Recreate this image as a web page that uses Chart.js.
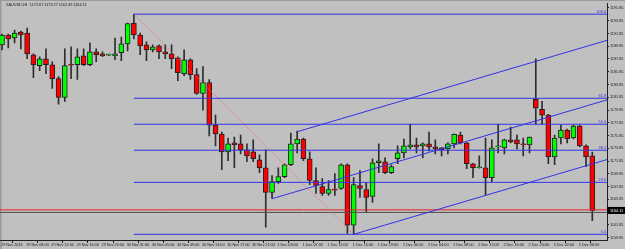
<!DOCTYPE html>
<html><head><meta charset="utf-8">
<script src="https://cdn.jsdelivr.net/npm/chart.js@4.4.0/dist/chart.umd.min.js"></script>
<style>html,body{margin:0;padding:0;background:#c0c0c0;overflow:hidden}canvas{display:block}</style>
</head><body><canvas id="c" width="625" height="249"></canvas>
<script>
const SYMBOL = 'XAUUSD,H1';
const OPEN = [1190.06,1191.61,1191.14,1192.07,1191.92,1188.51,1186.80,1187.89,1186.95,1184.78,
1181.83,1186.95,1186.95,1188.35,1186.95,1188.97,1188.66,1188.45,1188.35,1188.82,
1190.21,1193.47,1191.61,1190.06,1189.28,1189.90,1188.97,1188.66,1188.04,1185.56,
1187.73,1185.40,1182.45,1184.16,1177.48,1176.09,1173.30,1174.69,1174.54,1173.61,
1173.30,1172.05,1170.81,1166.93,1168.64,1169.42,1171.28,1174.54,1175.31,1172.21,
1168.80,1167.87,1166.78,1167.40,1167.55,1171.28,1161.81,1168.02,1167.40,1166.31,
1171.59,1171.74,1170.04,1172.21,1173.14,1174.07,1174.38,1174.23,1174.54,1174.07,
1173.92,1173.76,1174.54,1175.93,1174.69,1171.43,1170.81,1170.81,1169.26,1174.07,
1173.92,1175.16,1175.16,1174.54,1174.38,1181.52,1179.97,1179.04,1172.52,1175.47,
1176.71,1175.47,1177.33,1174.23,1172.67];
const HIGH = [1191.76,1191.76,1192.38,1192.23,1192.70,1188.66,1188.20,1189.44,1187.42,1185.09,
1189.44,1189.75,1189.44,1189.44,1190.37,1189.44,1188.97,1188.60,1191.14,1191.30,
1193.47,1194.87,1191.92,1190.52,1190.06,1190.06,1190.06,1190.06,1188.20,1189.28,
1187.89,1186.33,1186.64,1184.63,1179.04,1176.40,1175.47,1175.62,1175.93,1174.54,
1175.16,1172.83,1173.61,1169.57,1170.81,1171.43,1176.24,1176.55,1175.47,1173.30,
1170.81,1169.11,1168.80,1169.88,1171.43,1171.43,1169.26,1170.35,1168.49,1172.21,
1174.54,1172.36,1171.28,1174.23,1175.31,1177.64,1175.47,1174.69,1176.40,1175.16,
1173.95,1174.69,1176.09,1176.40,1174.75,1171.50,1172.67,1175.47,1175.16,1177.64,
1175.31,1177.17,1175.93,1175.47,1175.62,1187.89,1181.21,1179.19,1175.93,1177.48,
1176.86,1177.48,1177.48,1174.38,1173.27];
const LOW = [1189.28,1189.59,1190.37,1189.44,1187.89,1184.94,1186.02,1185.56,1183.23,1180.75,
1181.21,1184.78,1184.63,1186.80,1186.80,1187.42,1188.20,1188.35,1187.73,1187.57,
1189.13,1190.99,1188.51,1187.57,1188.97,1187.89,1187.89,1186.33,1184.47,1185.25,
1184.63,1182.30,1179.81,1175.78,1174.23,1170.50,1171.90,1170.81,1172.99,1171.74,
1171.74,1170.04,1161.50,1166.00,1168.33,1169.26,1171.12,1173.14,1171.90,1168.17,
1166.78,1166.47,1166.47,1166.47,1167.40,1160.50,1160.37,1166.16,1163.83,1165.38,
1170.04,1169.88,1169.88,1171.43,1172.36,1173.76,1173.14,1172.36,1173.45,1172.99,
1172.67,1172.99,1173.92,1174.54,1170.66,1169.26,1170.75,1166.47,1168.64,1173.14,
1172.99,1174.69,1173.76,1172.67,1173.14,1177.64,1177.64,1171.43,1171.28,1174.54,
1174.69,1175.31,1174.07,1170.97,1162.49];
const CLOSE = [1191.61,1190.99,1191.92,1191.61,1188.66,1186.95,1187.89,1186.95,1184.78,1181.83,
1186.80,1186.87,1188.20,1186.95,1188.97,1188.51,1188.35,1188.50,1188.66,1190.21,
1193.39,1191.61,1189.90,1189.28,1189.75,1188.97,1188.66,1187.89,1185.71,1187.73,
1185.40,1182.45,1184.16,1177.48,1176.09,1173.30,1174.54,1174.38,1173.61,1172.67,
1172.21,1170.81,1166.93,1168.64,1169.42,1171.28,1174.54,1175.31,1172.21,1168.80,
1168.02,1166.78,1167.40,1167.30,1171.28,1161.81,1168.17,1167.55,1166.16,1171.59,
1171.90,1170.04,1170.97,1173.14,1174.23,1174.38,1174.07,1174.54,1174.07,1173.76,
1173.61,1174.54,1176.05,1174.69,1171.43,1170.81,1170.85,1169.26,1173.92,1174.10,
1175.16,1174.85,1174.54,1174.38,1175.60,1180.13,1179.04,1172.52,1175.47,1176.71,
1175.31,1177.33,1174.23,1172.52,1164.11];
const TIME_LABELS = ['29 Nov 2016','29 Nov 08:00','29 Nov 12:00','29 Nov 16:00','29 Nov 20:00',
'30 Nov 01:00','30 Nov 05:00','30 Nov 09:00','30 Nov 13:00','30 Nov 17:00','30 Nov 21:00',
'1 Dec 03:00','1 Dec 07:00','1 Dec 11:00','1 Dec 15:00','1 Dec 19:00',
'2 Dec 00:00','2 Dec 04:00','2 Dec 08:00','2 Dec 12:00','2 Dec 16:00','2 Dec 20:00',
'5 Dec 02:00','5 Dec 06:00'];
const PRICE_TICKS = [1159.85,1161.85,1163.85,1165.85,1167.85,1169.85,1171.85,1173.85,1175.85,1177.85,
1179.85,1181.85,1183.85,1185.85,1187.85,1189.85,1191.85,1193.85,1195.85];
const FIB_LEVELS = [0.0, 23.6, 38.2, 50.0, 61.8, 100.0];
const FIB_HIGH = [21, 1194.87];   // [bar, price]
const FIB_LOW = [56, 1160.37];
const CHANNEL_ANCHORS = [[47, 1176.45], [43, 1165.95], [56, 1160.37]];
const CHANNEL_SLOPE = 0.2904;     // price per bar
const RED_LEVEL = 1164.20;
const BID_LEVEL = 1163.80;

const X_MIN = -0.32, X_MAX = 96.34;
const Y_MIN = 1159.48, Y_MAX = 1196.58;
const FONT = {family: 'Liberation Sans', size: 3.8};
const BLUE = '#3232e6';

const N = OPEN.length;
const bodies = OPEN.map((o, i) => ({x: i, y: [o, CLOSE[i]]}));
const wicks = OPEN.map((o, i) => ({x: i, y: [LOW[i], HIGH[i]]}));
const bodyColors = OPEN.map((o, i) => CLOSE[i] >= o ? '#00ff00' : '#ff0000');

function seg(points, color, extra) {
  return Object.assign({type: 'line', data: points.map(p => ({x: p[0], y: p[1]})), borderColor: color,
    borderWidth: 1, pointRadius: 0, fill: false, tension: 0, order: -1}, extra || {});
}
const lineSets = [];
const fibRange = FIB_HIGH[1] - FIB_LOW[1];
FIB_LEVELS.forEach(l => {
  const p = FIB_LOW[1] + fibRange * l / 100;
  lineSets.push(seg([[FIB_HIGH[0], p], [X_MAX, p]], BLUE));
});
lineSets.push(seg([FIB_HIGH, FIB_LOW], '#e07070', {borderDash: [1.5, 1.5]}));
CHANNEL_ANCHORS.forEach(a => {
  lineSets.push(seg([a, [X_MAX, a[1] + CHANNEL_SLOPE * (X_MAX - a[0])]], BLUE));
});
lineSets.push(seg([[X_MIN, RED_LEVEL], [X_MAX, RED_LEVEL]], '#e02020'));
lineSets.push(seg([[X_MIN, BID_LEVEL], [X_MAX, BID_LEVEL]], '#505050'));

const bgPlugin = {
  id: 'bg',
  beforeDraw(chart) {
    const c = chart.ctx;
    c.save();
    c.fillStyle = '#c0c0c0';
    c.fillRect(0, 0, chart.width, chart.height);
    c.fillStyle = '#9a9a9a';
    c.fillRect(0, 0, 1.5, chart.height);
    c.fillRect(0, 0, chart.width, 1);
    c.restore();
  }
};
const overlayPlugin = {
  id: 'overlay',
  afterDraw(chart) {
    const c = chart.ctx, y = chart.scales.y, x = chart.scales.x;
    c.save();
    c.font = FONT.size + 'px ' + FONT.family;
    c.textBaseline = 'middle';
    c.fillStyle = '#1a1a1a';
    c.textAlign = 'left';
    const last = N - 1;
    c.fillText(SYMBOL + '  ' + OPEN[last].toFixed(2) + ' ' + HIGH[last].toFixed(2) + ' ' +
      LOW[last].toFixed(2) + ' ' + CLOSE[last].toFixed(2), 6, 4.5);
    c.fillStyle = BLUE;
    c.textAlign = 'right';
    c.textBaseline = 'bottom';
    FIB_LEVELS.forEach(l => {
      const p = FIB_LOW[1] + fibRange * l / 100;
      c.fillText(l.toFixed(1), x.right - 1, y.getPixelForValue(p) - 0.3);
    });
    const py = y.getPixelForValue(CLOSE[last]);
    c.fillStyle = '#000';
    c.fillRect(x.right, py - 3.5, chart.width - x.right, 7);
    c.fillStyle = '#fff';
    c.textAlign = 'left';
    c.textBaseline = 'middle';
    c.fillText(CLOSE[last].toFixed(2), x.right + 3, py);
    c.restore();
  }
};

new Chart(document.getElementById('c'), {
  type: 'bar',
  data: {
    datasets: [
      {type: 'bar', data: bodies, backgroundColor: bodyColors, borderColor: '#202020', borderWidth: 1,
        borderSkipped: false, barThickness: 5, grouped: false, order: 0, minBarLength: 1},
      {type: 'bar', data: wicks, backgroundColor: '#2e2e2e', barThickness: 1, grouped: false, order: 1}
    ].concat(lineSets)
  },
  options: {
    responsive: false,
    devicePixelRatio: 1,
    animation: false,
    layout: {padding: {top: 1, left: 0, right: 0, bottom: 0}},
    plugins: {legend: {display: false}, tooltip: {enabled: false}},
    scales: {
      x: {
        type: 'linear', min: X_MIN, max: X_MAX, position: 'bottom', offset: false,
        grid: {drawOnChartArea: false, drawTicks: true, tickLength: 3, color: '#202020'},
        border: {display: true, color: '#202020'},
        afterBuildTicks: s => { s.ticks = TIME_LABELS.map((_, k) => ({value: 4 * k - 0.32})); },
        afterFit: s => { s.height = 9; },
        ticks: {align: 'start', autoSkip: false, maxRotation: 0, minRotation: 0, padding: 0,
          font: FONT, color: '#1a1a1a', callback: (v, i) => ' ' + TIME_LABELS[i]}
      },
      y: {
        type: 'linear', min: Y_MIN, max: Y_MAX, position: 'right',
        grid: {drawOnChartArea: false, drawTicks: true, tickLength: 2, color: '#202020'},
        border: {display: true, color: '#202020'},
        afterBuildTicks: s => { s.ticks = PRICE_TICKS.map(v => ({value: v})); },
        afterFit: s => { s.width = 18; },
        ticks: {padding: 1, font: FONT, color: '#1a1a1a', callback: v => v.toFixed(2)}
      }
    }
  },
  plugins: [bgPlugin, overlayPlugin]
});
</script>
</body></html>
